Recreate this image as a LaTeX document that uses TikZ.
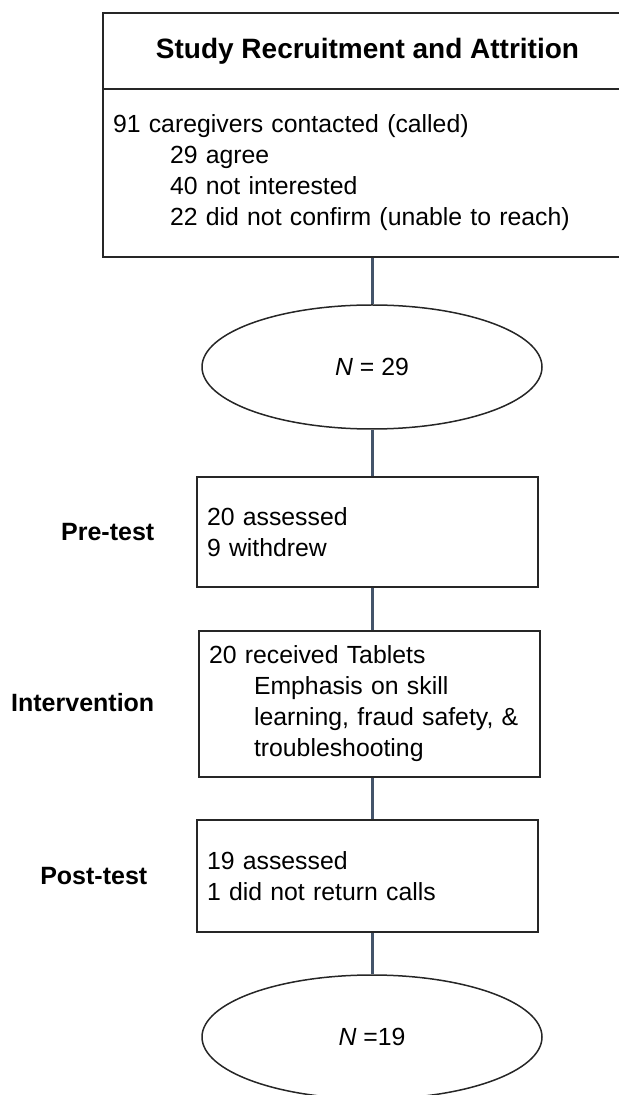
\documentclass[tikz,border=0pt]{standalone}
\usepackage{fontspec}
\setmainfont{Liberation Sans}
\usepackage{xcolor}
\usetikzlibrary{shapes.geometric}
\definecolor{linkgray}{HTML}{44546A}

\begin{document}
\begin{tikzpicture}[x=0.5pt, y=-0.5pt, line width=0.75pt,
  box/.style={draw=black!85, rectangle, inner xsep=5pt, inner ysep=0pt, align=left, text width=160.5pt, minimum width=170.5pt, font=\fontsize{12.4}{15.5}\selectfont},
  oval/.style={draw=black!85, ellipse, inner sep=0pt, minimum width=170pt, minimum height=62pt, font=\fontsize{12.4}{15.5}\selectfont},
  phase/.style={anchor=east, inner sep=0pt, font=\fontsize{12.5}{15}\selectfont\bfseries},
  link/.style={draw=linkgray, line width=1.5pt}]
\useasboundingbox (0,0) rectangle (619,1095);
\node[draw=black!85, rectangle, minimum width=264.5pt, minimum height=38pt, font=\fontsize{14}{16}\selectfont\bfseries] (title) at (367.5,51) {Study Recruitment and Attrition};
\node[box, text width=254.5pt, minimum width=264.5pt, minimum height=84pt] (recruit) at (367.5,173) {91 caregivers contacted (called)\\
\hspace*{28.5pt}29 agree\\
\hspace*{28.5pt}40 not interested\\
\hspace*{28.5pt}22 did not confirm (unable to reach)};
\node[oval] (n29) at (372,367) {\textit{N} = 29};
\node[box, minimum height=55pt] (pre) at (367.5,532) {20 assessed\\ 9 withdrew};
\node[box, minimum height=73pt] (intv) at (369.5,704) {20 received Tablets\\
\hspace*{22.5pt}Emphasis on skill\\
\hspace*{22.5pt}learning, fraud safety, \&\\
\hspace*{22.5pt}troubleshooting};
\node[box, minimum height=56pt] (post) at (367.5,876) {19 assessed\\ 1 did not return calls};
\node[oval] (n19) at (372,1037) {\textit{N} =19};
\node[phase] (prelab) at (155,532) {Pre-test};
\node[phase] (intvlab) at (155,703) {Intervention};
\node[phase] (postlab) at (148,876) {Post-test};
\draw[link] (n29.north |- recruit.south) -- (n29.north);
\draw[link] (n29.south) -- (n29.south |- pre.north);
\draw[link] (n29.south |- pre.south) -- (n29.south |- intv.north);
\draw[link] (n29.south |- intv.south) -- (n29.south |- post.north);
\draw[link] (n19.north |- post.south) -- (n19.north);
\end{tikzpicture}
\end{document}
